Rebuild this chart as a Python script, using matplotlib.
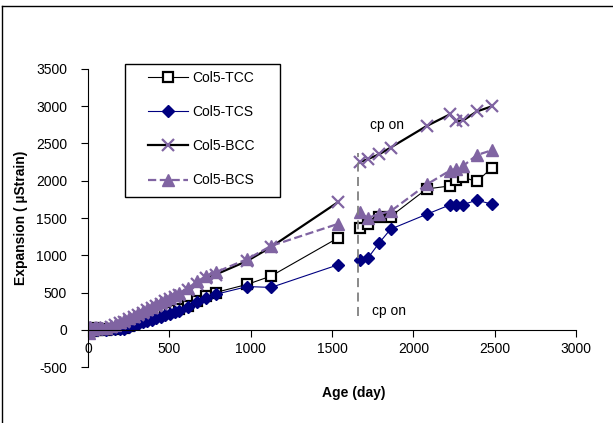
import numpy as np
import matplotlib.pyplot as plt
from matplotlib.lines import Line2D
from matplotlib.patches import Rectangle

plt.rcParams['font.family'] = ['Liberation Sans', 'DejaVu Sans']
plt.rcParams['axes.unicode_minus'] = False

# %% Data
days_pre = [0, 7, 14, 28, 42, 56, 84, 112, 140, 168, 196, 224, 252, 280, 308, 336, 364,
            392, 420, 448, 476, 504, 532, 560, 616, 672, 728, 784, 980, 1125, 1535]
tcc_pre = [0, -30, 10, -20, 20, -10, 10, 0, 10, 15, 20, 30, 50, 80, 100, 120, 140,
           160, 180, 200, 220, 240, 260, 280, 320, 390, 450, 500, 610, 720, 1230]
tcs_pre = [0, -40, 20, -10, 10, 0, 5, -5, 5, 10, 5, 10, 40, 60, 80, 100, 115,
           135, 155, 175, 195, 215, 235, 255, 300, 370, 420, 475, 580, 568, 870]
bcc_pre = [0, -20, 30, 0, 20, 10, 20, 20, 40, 60, 90, 110, 140, 170, 200, 230, 260,
           290, 320, 350, 380, 410, 435, 460, 530, 610, 690, 740, 925, 1110, 1710]
bcs_pre = [0, -40, 40, 10, 30, 20, 30, 30, 50, 70, 100, 130, 160, 190, 220, 250, 280,
           310, 340, 370, 400, 430, 460, 490, 560, 650, 720, 770, 950, 1125, 1420]

days_post = [1670, 1720, 1790, 1860, 2082, 2224, 2265, 2307, 2390, 2484]
tcc_post = [1360, 1420, 1520, 1520, 1890, 1930, 2010, 2045, 1990, 2175]
tcs_post = [935, 960, 1165, 1350, 1550, 1675, 1680, 1680, 1740, 1685]
bcc_post = [2250, 2290, 2355, 2445, 2735, 2890, 2800, 2810, 2930, 3000]
bcs_post = [1575, 1500, 1555, 1590, 1950, 2135, 2160, 2200, 2345, 2410]

labels = ['Col5-TCC', 'Col5-TCS', 'Col5-BCC', 'Col5-BCS']
cp_day = 1660

purple = '#8064A2'
navy = '#000080'

W, H = 613, 423

# %% Plot
fig = plt.figure(figsize=(W / 100, H / 100), dpi=100)
ax = fig.add_axes([88 / W, 1 - 367 / H, 488 / W, 298 / H])

styles = [
    dict(color='black', lw=0.8, marker='s', ms=7.5, mfc='white', mec='black', mew=1.6),
    dict(color=navy, lw=0.8, marker='D', ms=6.5, mfc=navy, mec=navy),
    dict(color='black', lw=1.6, marker='x', ms=8, mec=purple, mew=1.6),
    dict(color=purple, lw=1.6, ls='--', marker='^', ms=8.5, mfc=purple, mec=purple),
]
series_pre = [tcc_pre, tcs_pre, bcc_pre, bcs_pre]
series_post = [tcc_post, tcs_post, bcc_post, bcs_post]

for s, pre, post in zip(styles, series_pre, series_post):
    ax.plot(days_pre, pre, **s)
    ax.plot(days_post, post, **s)

ax.plot([cp_day, cp_day], [190, 2370], color='gray', ls=(0, (5, 3)), lw=1.3)
ax.text(1735, 2750, 'cp on', fontsize=10, va='center', ha='left')
ax.text(1745, 245, 'cp on', fontsize=10, va='center', ha='left')

ax.set_xlim(0, 3000)
ax.set_ylim(-500, 3500)
ax.set_xticks(np.arange(0, 3001, 500))
ax.set_yticks(np.arange(-500, 3501, 500))
ax.spines['bottom'].set_position(('data', 0))
ax.spines['top'].set_visible(False)
ax.spines['right'].set_visible(False)
ax.tick_params(direction='out', length=5, labelsize=10, width=0.8)
ax.tick_params(axis='y', pad=10)
ax.set_xlabel('Age (day)', fontsize=10, fontweight='bold')
ax.xaxis.set_label_coords(0.545, -0.064)
ax.set_ylabel('Expansion ( µStrain)', fontsize=10, fontweight='bold')
ax.yaxis.set_label_coords(-0.122, 0.5)

# legend with its own box
fig.add_artist(Rectangle((125 / W, 1 - 197 / H), 155 / W, 133 / H, transform=fig.transFigure,
                         fill=False, edgecolor='black', lw=1.0))
handles = [Line2D([], [], **s) for s in styles]
leg = fig.legend(handles, labels, loc='upper left', bbox_to_anchor=(148 / W, 1 - 71 / H),
                 fontsize=10, frameon=False, borderpad=0, borderaxespad=0,
                 labelspacing=1.45, handlelength=2.9, handletextpad=0.3)

# chart frame
fig.add_artist(Line2D([2 / W, 1], [1 - 6 / H, 1 - 6 / H], color='black', lw=1))
fig.add_artist(Line2D([2 / W, 2 / W], [0, 1 - 6 / H], color='black', lw=1))

plt.savefig('out.png', dpi=100)
